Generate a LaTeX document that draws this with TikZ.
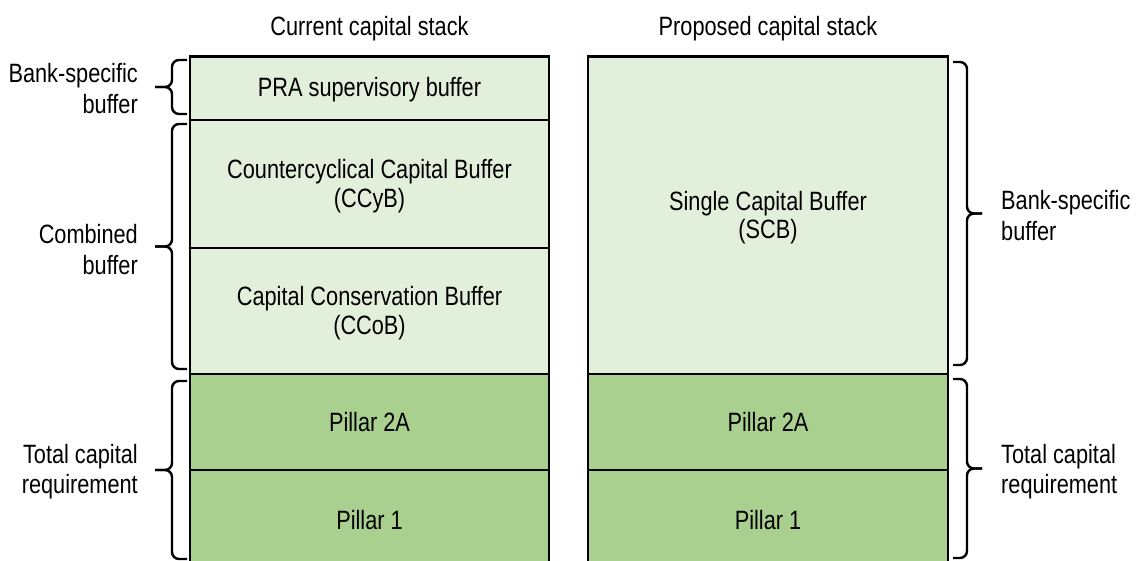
\documentclass[tikz,border=0pt]{standalone}
\usepackage{fontspec}
\setmainfont{Liberation Sans}[FakeStretch=0.82]
\definecolor{lightg}{HTML}{E2EFDA}
\definecolor{darkg}{HTML}{A9D08E}
\tikzset{
  base/.style={draw=black, line width=2.6pt, inner sep=0pt, align=center, font=\fontsize{26.5}{28.5}\selectfont},
  lightbox/.style={base, fill=lightg},
  darkbox/.style={base, fill=darkg},
  lbl/.style={inner sep=0pt, font=\fontsize{26.5}{30.5}\selectfont},
  bracestyle/.style={draw=black, line width=2.4pt, rounded corners=7pt},
}
\newcommand\BraceLeft[2]{%
  \draw[bracestyle] (187,#1) -- (172,#1) -- (172,{(#1+#2)/2}) -- (155,{(#1+#2)/2});
  \draw[bracestyle] (155,{(#1+#2)/2}) -- (172,{(#1+#2)/2}) -- (172,#2) -- (187,#2);}
\newcommand\BraceRight[2]{%
  \draw[bracestyle] (953,#1) -- (967,#1) -- (967,{(#1+#2)/2}) -- (982,{(#1+#2)/2});
  \draw[bracestyle] (982,{(#1+#2)/2}) -- (967,{(#1+#2)/2}) -- (967,#2) -- (953,#2);}
\begin{document}
\begin{tikzpicture}[x=1pt, y=-1pt]
\useasboundingbox (0,0) rectangle (1136,560);
\clip (0,0) rectangle (1136,560);
\fill[white] (0,0) rectangle (1136,560);

% titles
\node[lbl, anchor=base] (t1) at (369.5,35) {Current capital stack};
\node[lbl, anchor=base] (t2) at (768,35) {Proposed capital stack};

% left stack
\node[lightbox, minimum width=359pt, minimum height=63.5pt] (pra) at (369.5,88.25) {};
\node[lbl] (pratext) at (369.5,90) {PRA supervisory buffer};
\node[lightbox, minimum width=359pt, minimum height=128pt] (ccyb) at (369.5,184) {};
\node[lbl, align=center, font=\fontsize{26.5}{28.5}\selectfont] (ccybtext) at (369.5,186) {Countercyclical Capital Buffer\\(CCyB)};
\node[lightbox, minimum width=359pt, minimum height=126pt] (ccob) at (369.5,311) {};
\node[lbl, align=center, font=\fontsize{26.5}{28.5}\selectfont] (ccobtext) at (369.5,313) {Capital Conservation Buffer\\(CCoB)};
\node[darkbox, minimum width=359pt, minimum height=96pt] (p2a) at (369.5,422) {Pillar 2A};
\node[darkbox, minimum width=359pt, minimum height=100pt] (p1) at (369.5,520) {Pillar 1};

% right stack
\node[lightbox, minimum width=360pt, minimum height=317.5pt] (scb) at (768,215.25) {};
\node[lbl, align=center, font=\fontsize{26.5}{28.5}\selectfont] (scbtext) at (768,217.5) {Single Capital Buffer\\(SCB)};
\node[darkbox, minimum width=360pt, minimum height=96pt] (rp2a) at (768,422) {Pillar 2A};
\node[darkbox, minimum width=360pt, minimum height=100pt] (rp1) at (768,520) {Pillar 1};

% left braces and labels
\BraceLeft{60}{114}
\BraceLeft{124}{369}
\BraceLeft{381}{559}
\node[lbl, anchor=east, align=right] (lb1) at (138,88.6) {Bank-specific\\buffer};
\node[lbl, anchor=east, align=right] (lb2) at (138,249.5) {Combined\\buffer};
\node[lbl, anchor=east, align=right] (lb3) at (138,471.6) {Total capital\\requirement};

% right braces and labels
\BraceRight{62}{365}
\BraceRight{379}{558}
\node[lbl, anchor=west, align=left] (rb1) at (1001,215.3) {Bank-specific\\buffer};
\node[lbl, anchor=west, align=left] (rb2) at (1001,471.6) {Total capital\\requirement};
\end{tikzpicture}
\end{document}
